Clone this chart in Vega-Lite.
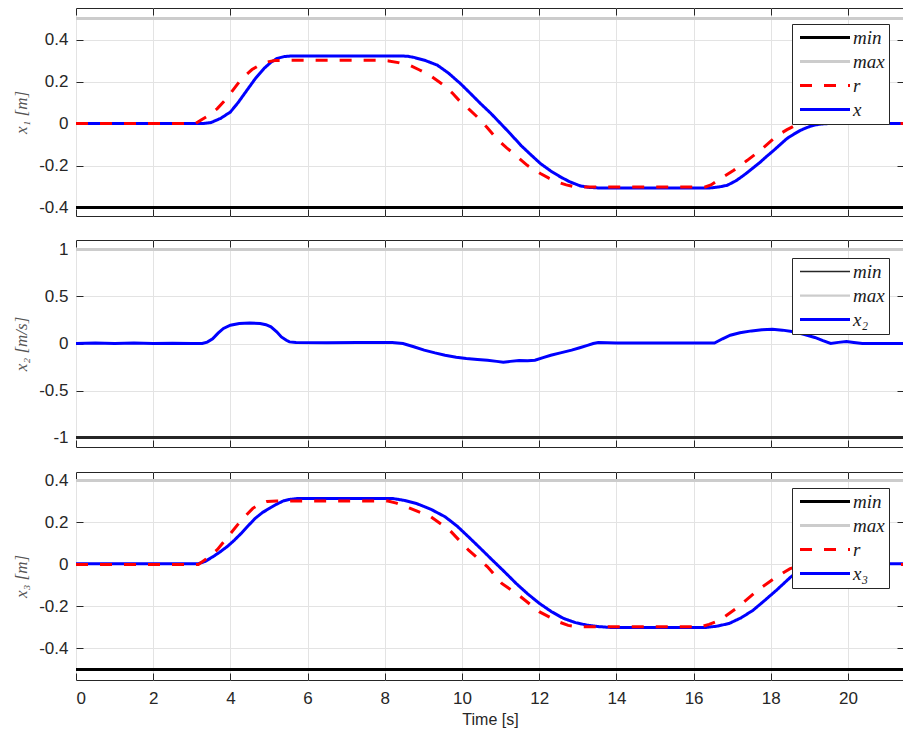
{
  "$schema": "https://vega.github.io/schema/vega-lite/v6.json",
  "padding": {"left": 12, "top": 7, "right": 0, "bottom": 0},
  "spacing": 22,
  "datasets": {
    "p1": [
      {"t": 0, "v": -0.4, "s": "min"}, {"t": 21.45, "v": -0.4, "s": "min"},
      {"t": 0, "v": 0.5, "s": "max"}, {"t": 21.45, "v": 0.5, "s": "max"},
      {"t": 0, "v": 0, "s": "x"}, {"t": 3.3, "v": 0, "s": "x"}, {"t": 3.5, "v": 0.005, "s": "x"}, {"t": 3.75, "v": 0.025, "s": "x"}, {"t": 4.0, "v": 0.055, "s": "x"}, {"t": 4.2, "v": 0.1, "s": "x"}, {"t": 4.43, "v": 0.159, "s": "x"}, {"t": 4.65, "v": 0.215, "s": "x"}, {"t": 4.87, "v": 0.262, "s": "x"}, {"t": 5.05, "v": 0.292, "s": "x"}, {"t": 5.21, "v": 0.31, "s": "x"}, {"t": 5.4, "v": 0.319, "s": "x"}, {"t": 5.6, "v": 0.322, "s": "x"}, {"t": 8.4, "v": 0.322, "s": "x"}, {"t": 8.6, "v": 0.32, "s": "x"}, {"t": 8.75, "v": 0.315, "s": "x"}, {"t": 9.05, "v": 0.3, "s": "x"}, {"t": 9.36, "v": 0.278, "s": "x"}, {"t": 9.65, "v": 0.24, "s": "x"}, {"t": 9.96, "v": 0.19, "s": "x"}, {"t": 10.22, "v": 0.143, "s": "x"}, {"t": 10.48, "v": 0.095, "s": "x"}, {"t": 10.75, "v": 0.048, "s": "x"}, {"t": 11.0, "v": 0.0, "s": "x"}, {"t": 11.26, "v": -0.05, "s": "x"}, {"t": 11.52, "v": -0.103, "s": "x"}, {"t": 11.78, "v": -0.148, "s": "x"}, {"t": 12.03, "v": -0.19, "s": "x"}, {"t": 12.3, "v": -0.226, "s": "x"}, {"t": 12.55, "v": -0.254, "s": "x"}, {"t": 12.8, "v": -0.278, "s": "x"}, {"t": 13.07, "v": -0.297, "s": "x"}, {"t": 13.3, "v": -0.304, "s": "x"}, {"t": 13.6, "v": -0.307, "s": "x"}, {"t": 16.4, "v": -0.307, "s": "x"}, {"t": 16.65, "v": -0.302, "s": "x"}, {"t": 16.87, "v": -0.294, "s": "x"}, {"t": 17.1, "v": -0.272, "s": "x"}, {"t": 17.3, "v": -0.246, "s": "x"}, {"t": 17.5, "v": -0.217, "s": "x"}, {"t": 17.73, "v": -0.183, "s": "x"}, {"t": 17.9, "v": -0.155, "s": "x"}, {"t": 18.08, "v": -0.127, "s": "x"}, {"t": 18.25, "v": -0.099, "s": "x"}, {"t": 18.42, "v": -0.071, "s": "x"}, {"t": 18.6, "v": -0.05, "s": "x"}, {"t": 18.77, "v": -0.032, "s": "x"}, {"t": 18.95, "v": -0.018, "s": "x"}, {"t": 19.11, "v": -0.008, "s": "x"}, {"t": 19.3, "v": -0.002, "s": "x"}, {"t": 19.5, "v": 0, "s": "x"}, {"t": 21.45, "v": 0, "s": "x"},
      {"t": 0, "v": 0, "s": "r"}, {"t": 3.1, "v": 0, "s": "r"}, {"t": 3.23, "v": 0.016, "s": "r"}, {"t": 3.45, "v": 0.04, "s": "r"}, {"t": 3.66, "v": 0.071, "s": "r"}, {"t": 3.83, "v": 0.105, "s": "r"}, {"t": 4.0, "v": 0.143, "s": "r"}, {"t": 4.13, "v": 0.175, "s": "r"}, {"t": 4.26, "v": 0.206, "s": "r"}, {"t": 4.41, "v": 0.233, "s": "r"}, {"t": 4.56, "v": 0.257, "s": "r"}, {"t": 4.75, "v": 0.278, "s": "r"}, {"t": 4.95, "v": 0.293, "s": "r"}, {"t": 5.15, "v": 0.3, "s": "r"}, {"t": 5.35, "v": 0.301, "s": "r"}, {"t": 7.9, "v": 0.301, "s": "r"}, {"t": 8.1, "v": 0.298, "s": "r"}, {"t": 8.35, "v": 0.29, "s": "r"}, {"t": 8.67, "v": 0.275, "s": "r"}, {"t": 8.9, "v": 0.255, "s": "r"}, {"t": 9.18, "v": 0.228, "s": "r"}, {"t": 9.53, "v": 0.182, "s": "r"}, {"t": 9.75, "v": 0.145, "s": "r"}, {"t": 9.96, "v": 0.103, "s": "r"}, {"t": 10.2, "v": 0.065, "s": "r"}, {"t": 10.39, "v": 0.032, "s": "r"}, {"t": 10.65, "v": -0.019, "s": "r"}, {"t": 10.91, "v": -0.075, "s": "r"}, {"t": 11.15, "v": -0.115, "s": "r"}, {"t": 11.34, "v": -0.143, "s": "r"}, {"t": 11.69, "v": -0.199, "s": "r"}, {"t": 12.03, "v": -0.238, "s": "r"}, {"t": 12.25, "v": -0.26, "s": "r"}, {"t": 12.47, "v": -0.278, "s": "r"}, {"t": 12.7, "v": -0.292, "s": "r"}, {"t": 12.9, "v": -0.3, "s": "r"}, {"t": 13.1, "v": -0.302, "s": "r"}, {"t": 16.3, "v": -0.302, "s": "r"}, {"t": 16.45, "v": -0.292, "s": "r"}, {"t": 16.61, "v": -0.272, "s": "r"}, {"t": 16.8, "v": -0.25, "s": "r"}, {"t": 17.04, "v": -0.222, "s": "r"}, {"t": 17.39, "v": -0.175, "s": "r"}, {"t": 17.73, "v": -0.127, "s": "r"}, {"t": 18.08, "v": -0.071, "s": "r"}, {"t": 18.25, "v": -0.048, "s": "r"}, {"t": 18.42, "v": -0.029, "s": "r"}, {"t": 18.6, "v": -0.012, "s": "r"}, {"t": 18.77, "v": -0.003, "s": "r"}, {"t": 19.0, "v": 0.002, "s": "r"}, {"t": 19.2, "v": 0, "s": "r"}, {"t": 21.45, "v": 0, "s": "r"}
    ],
    "p2": [
      {"t": 0, "v": -1, "s": "min"}, {"t": 21.45, "v": -1, "s": "min"},
      {"t": 0, "v": 1, "s": "max"}, {"t": 21.45, "v": 1, "s": "max"},
      {"t": 0, "v": 0, "s": "x₂"}, {"t": 0.5, "v": 0.005, "s": "x₂"}, {"t": 1, "v": 0, "s": "x₂"}, {"t": 1.5, "v": 0.004, "s": "x₂"}, {"t": 2, "v": 0, "s": "x₂"}, {"t": 2.5, "v": 0.003, "s": "x₂"}, {"t": 3, "v": 0, "s": "x₂"}, {"t": 3.27, "v": 0, "s": "x₂"}, {"t": 3.4, "v": 0.015, "s": "x₂"}, {"t": 3.54, "v": 0.05, "s": "x₂"}, {"t": 3.68, "v": 0.11, "s": "x₂"}, {"t": 3.82, "v": 0.16, "s": "x₂"}, {"t": 4.0, "v": 0.195, "s": "x₂"}, {"t": 4.23, "v": 0.213, "s": "x₂"}, {"t": 4.5, "v": 0.218, "s": "x₂"}, {"t": 4.77, "v": 0.213, "s": "x₂"}, {"t": 4.92, "v": 0.2, "s": "x₂"}, {"t": 5.05, "v": 0.177, "s": "x₂"}, {"t": 5.2, "v": 0.125, "s": "x₂"}, {"t": 5.32, "v": 0.07, "s": "x₂"}, {"t": 5.45, "v": 0.035, "s": "x₂"}, {"t": 5.53, "v": 0.017, "s": "x₂"}, {"t": 5.7, "v": 0.01, "s": "x₂"}, {"t": 6.5, "v": 0.008, "s": "x₂"}, {"t": 7.3, "v": 0.01, "s": "x₂"}, {"t": 8.19, "v": 0.01, "s": "x₂"}, {"t": 8.47, "v": 0, "s": "x₂"}, {"t": 8.75, "v": -0.035, "s": "x₂"}, {"t": 9.02, "v": -0.07, "s": "x₂"}, {"t": 9.3, "v": -0.1, "s": "x₂"}, {"t": 9.56, "v": -0.125, "s": "x₂"}, {"t": 9.85, "v": -0.145, "s": "x₂"}, {"t": 10.11, "v": -0.16, "s": "x₂"}, {"t": 10.4, "v": -0.17, "s": "x₂"}, {"t": 10.66, "v": -0.178, "s": "x₂"}, {"t": 10.9, "v": -0.19, "s": "x₂"}, {"t": 11.07, "v": -0.2, "s": "x₂"}, {"t": 11.25, "v": -0.19, "s": "x₂"}, {"t": 11.48, "v": -0.18, "s": "x₂"}, {"t": 11.7, "v": -0.182, "s": "x₂"}, {"t": 11.89, "v": -0.178, "s": "x₂"}, {"t": 12.1, "v": -0.15, "s": "x₂"}, {"t": 12.3, "v": -0.125, "s": "x₂"}, {"t": 12.55, "v": -0.1, "s": "x₂"}, {"t": 12.84, "v": -0.07, "s": "x₂"}, {"t": 13.05, "v": -0.045, "s": "x₂"}, {"t": 13.25, "v": -0.02, "s": "x₂"}, {"t": 13.4, "v": 0, "s": "x₂"}, {"t": 13.53, "v": 0.01, "s": "x₂"}, {"t": 14, "v": 0.005, "s": "x₂"}, {"t": 15, "v": 0.005, "s": "x₂"}, {"t": 16, "v": 0.005, "s": "x₂"}, {"t": 16.54, "v": 0.005, "s": "x₂"}, {"t": 16.75, "v": 0.05, "s": "x₂"}, {"t": 16.95, "v": 0.088, "s": "x₂"}, {"t": 17.2, "v": 0.115, "s": "x₂"}, {"t": 17.5, "v": 0.134, "s": "x₂"}, {"t": 17.77, "v": 0.146, "s": "x₂"}, {"t": 18.04, "v": 0.152, "s": "x₂"}, {"t": 18.3, "v": 0.142, "s": "x₂"}, {"t": 18.59, "v": 0.124, "s": "x₂"}, {"t": 18.85, "v": 0.097, "s": "x₂"}, {"t": 19.14, "v": 0.064, "s": "x₂"}, {"t": 19.35, "v": 0.03, "s": "x₂"}, {"t": 19.55, "v": 0, "s": "x₂"}, {"t": 19.75, "v": 0.012, "s": "x₂"}, {"t": 19.96, "v": 0.02, "s": "x₂"}, {"t": 20.15, "v": 0.01, "s": "x₂"}, {"t": 20.37, "v": 0, "s": "x₂"}, {"t": 21.45, "v": 0, "s": "x₂"}
    ],
    "p3": [
      {"t": 0, "v": -0.5, "s": "min"}, {"t": 21.45, "v": -0.5, "s": "min"},
      {"t": 0, "v": 0.4, "s": "max"}, {"t": 21.45, "v": 0.4, "s": "max"},
      {"t": 0, "v": 0.003, "s": "x₃"}, {"t": 3.17, "v": 0.003, "s": "x₃"}, {"t": 3.35, "v": 0.015, "s": "x₃"}, {"t": 3.54, "v": 0.036, "s": "x₃"}, {"t": 3.72, "v": 0.058, "s": "x₃"}, {"t": 3.91, "v": 0.084, "s": "x₃"}, {"t": 4.1, "v": 0.115, "s": "x₃"}, {"t": 4.28, "v": 0.148, "s": "x₃"}, {"t": 4.46, "v": 0.184, "s": "x₃"}, {"t": 4.64, "v": 0.219, "s": "x₃"}, {"t": 4.83, "v": 0.247, "s": "x₃"}, {"t": 5.01, "v": 0.267, "s": "x₃"}, {"t": 5.2, "v": 0.287, "s": "x₃"}, {"t": 5.38, "v": 0.303, "s": "x₃"}, {"t": 5.55, "v": 0.31, "s": "x₃"}, {"t": 5.75, "v": 0.314, "s": "x₃"}, {"t": 8.2, "v": 0.314, "s": "x₃"}, {"t": 8.5, "v": 0.305, "s": "x₃"}, {"t": 8.82, "v": 0.29, "s": "x₃"}, {"t": 9.2, "v": 0.262, "s": "x₃"}, {"t": 9.56, "v": 0.227, "s": "x₃"}, {"t": 9.87, "v": 0.183, "s": "x₃"}, {"t": 10.17, "v": 0.131, "s": "x₃"}, {"t": 10.48, "v": 0.076, "s": "x₃"}, {"t": 10.79, "v": 0.02, "s": "x₃"}, {"t": 11.1, "v": -0.035, "s": "x₃"}, {"t": 11.4, "v": -0.09, "s": "x₃"}, {"t": 11.7, "v": -0.14, "s": "x₃"}, {"t": 12.01, "v": -0.186, "s": "x₃"}, {"t": 12.32, "v": -0.225, "s": "x₃"}, {"t": 12.63, "v": -0.257, "s": "x₃"}, {"t": 12.94, "v": -0.277, "s": "x₃"}, {"t": 13.24, "v": -0.289, "s": "x₃"}, {"t": 13.55, "v": -0.296, "s": "x₃"}, {"t": 13.85, "v": -0.3, "s": "x₃"}, {"t": 16.31, "v": -0.3, "s": "x₃"}, {"t": 16.6, "v": -0.294, "s": "x₃"}, {"t": 16.92, "v": -0.281, "s": "x₃"}, {"t": 17.23, "v": -0.254, "s": "x₃"}, {"t": 17.54, "v": -0.218, "s": "x₃"}, {"t": 17.85, "v": -0.17, "s": "x₃"}, {"t": 18.15, "v": -0.122, "s": "x₃"}, {"t": 18.52, "v": -0.059, "s": "x₃"}, {"t": 18.8, "v": -0.025, "s": "x₃"}, {"t": 19.1, "v": -0.006, "s": "x₃"}, {"t": 19.4, "v": 0.002, "s": "x₃"}, {"t": 21.45, "v": 0.003, "s": "x₃"},
      {"t": 0, "v": 0, "s": "r"}, {"t": 3.17, "v": 0, "s": "r"}, {"t": 3.4, "v": 0.03, "s": "r"}, {"t": 3.66, "v": 0.07, "s": "r"}, {"t": 3.97, "v": 0.14, "s": "r"}, {"t": 4.28, "v": 0.21, "s": "r"}, {"t": 4.58, "v": 0.267, "s": "r"}, {"t": 4.78, "v": 0.29, "s": "r"}, {"t": 4.95, "v": 0.3, "s": "r"}, {"t": 5.2, "v": 0.302, "s": "r"}, {"t": 8.08, "v": 0.302, "s": "r"}, {"t": 8.3, "v": 0.292, "s": "r"}, {"t": 8.57, "v": 0.274, "s": "r"}, {"t": 9.19, "v": 0.227, "s": "r"}, {"t": 9.68, "v": 0.163, "s": "r"}, {"t": 10.17, "v": 0.068, "s": "r"}, {"t": 10.66, "v": -0.011, "s": "r"}, {"t": 11.03, "v": -0.09, "s": "r"}, {"t": 11.52, "v": -0.154, "s": "r"}, {"t": 12.01, "v": -0.226, "s": "r"}, {"t": 12.5, "v": -0.273, "s": "r"}, {"t": 12.75, "v": -0.29, "s": "r"}, {"t": 12.99, "v": -0.297, "s": "r"}, {"t": 16.19, "v": -0.297, "s": "r"}, {"t": 16.4, "v": -0.285, "s": "r"}, {"t": 16.68, "v": -0.265, "s": "r"}, {"t": 17.17, "v": -0.2, "s": "r"}, {"t": 17.66, "v": -0.122, "s": "r"}, {"t": 18.15, "v": -0.059, "s": "r"}, {"t": 18.5, "v": -0.02, "s": "r"}, {"t": 18.9, "v": 0, "s": "r"}, {"t": 21.45, "v": 0, "s": "r"}
    ]
  },
  "resolve": {
    "scale": {"y": "independent", "color": "independent", "strokeDash": "independent", "strokeWidth": "independent"},
    "legend": {"color": "independent", "strokeDash": "independent", "strokeWidth": "independent"}
  },
  "vconcat": [
    {
      "width": 828, "height": 208,
      "data": {"name": "p1"},
      "resolve": {"axis": {"x": "independent", "y": "independent"}},
      "layer": [
        {
          "mark": {"type": "line", "clip": true},
          "encoding": {
            "x": {"field": "t", "type": "quantitative", "scale": {"domain": [0, 21.45], "nice": false},
                  "axis": {"values": [0,2,4,6,8,10,12,14,16,18,20], "labels": false, "title": null}},
            "y": {"field": "v", "type": "quantitative", "scale": {"domain": [-0.44, 0.55], "nice": false, "zero": false},
                  "axis": {"values": [-0.4,-0.2,0,0.2,0.4], "title": "x₁ [m]"}},
            "detail": {"field": "s"},
            "color": {"field": "s", "type": "nominal", "title": null,
                      "scale": {"domain": ["min","max","r","x"], "range": ["#000000","#cccccc","#ff0000","#0000ff"]},
                      "legend": {"legendX": 716, "legendY": 16}},
            "strokeDash": {"field": "s", "type": "nominal", "title": null,
                      "scale": {"domain": ["min","max","r","x"], "range": [[1,0],[1,0],[12,12],[1,0]]},
                      "legend": {"legendX": 716, "legendY": 16}}
          }
        },
        {
          "mark": {"type": "point", "opacity": 0, "clip": true},
          "encoding": {
            "x": {"field": "t", "type": "quantitative",
                  "axis": {"orient": "top", "values": [0,2,4,6,8,10,12,14,16,18,20], "labels": false, "title": null, "grid": false}},
            "y": {"field": "v", "type": "quantitative",
                  "axis": {"orient": "right", "values": [-0.4,-0.2,0,0.2,0.4], "labels": false, "title": null, "grid": false}}
          }
        }
      ]
    },
    {
      "width": 828, "height": 207,
      "data": {"name": "p2"},
      "resolve": {"axis": {"x": "independent", "y": "independent"}},
      "layer": [
        {
          "mark": {"type": "line", "clip": true},
          "encoding": {
            "x": {"field": "t", "type": "quantitative", "scale": {"domain": [0, 21.45], "nice": false},
                  "axis": {"values": [0,2,4,6,8,10,12,14,16,18,20], "labels": false, "title": null}},
            "y": {"field": "v", "type": "quantitative", "scale": {"domain": [-1.1, 1.1], "nice": false, "zero": false},
                  "axis": {"values": [-1,-0.5,0,0.5,1], "title": "x₂ [m/s]"}},
            "detail": {"field": "s"},
            "color": {"field": "s", "type": "nominal", "title": null,
                      "scale": {"domain": ["min","max","x₂"], "range": ["#262626","#cccccc","#0000ff"]},
                      "legend": {"legendX": 716, "legendY": 18}},
            "strokeWidth": {"field": "s", "type": "nominal", "title": null,
                      "scale": {"domain": ["min","max","x₂"], "range": [1.5, 3, 3]},
                      "legend": {"legendX": 716, "legendY": 18}}
          }
        },
        {
          "mark": {"type": "point", "opacity": 0, "clip": true},
          "encoding": {
            "x": {"field": "t", "type": "quantitative",
                  "axis": {"orient": "top", "values": [0,2,4,6,8,10,12,14,16,18,20], "labels": false, "title": null, "grid": false}},
            "y": {"field": "v", "type": "quantitative",
                  "axis": {"orient": "right", "values": [-1,-0.5,0,0.5,1], "labels": false, "title": null, "grid": false}}
          }
        }
      ]
    },
    {
      "width": 828, "height": 208,
      "data": {"name": "p3"},
      "resolve": {"axis": {"x": "independent", "y": "independent"}},
      "layer": [
        {
          "mark": {"type": "line", "clip": true},
          "encoding": {
            "x": {"field": "t", "type": "quantitative", "scale": {"domain": [0, 21.45], "nice": false},
                  "axis": {"values": [0,2,4,6,8,10,12,14,16,18,20], "title": "Time [s]"}},
            "y": {"field": "v", "type": "quantitative", "scale": {"domain": [-0.55, 0.44], "nice": false, "zero": false},
                  "axis": {"values": [-0.4,-0.2,0,0.2,0.4], "title": "x₃ [m]"}},
            "detail": {"field": "s"},
            "color": {"field": "s", "type": "nominal", "title": null,
                      "scale": {"domain": ["min","max","r","x₃"], "range": ["#000000","#cccccc","#ff0000","#0000ff"]},
                      "legend": {"legendX": 716, "legendY": 16}},
            "strokeDash": {"field": "s", "type": "nominal", "title": null,
                      "scale": {"domain": ["min","max","r","x₃"], "range": [[1,0],[1,0],[12,12],[1,0]]},
                      "legend": {"legendX": 716, "legendY": 16}}
          }
        },
        {
          "mark": {"type": "point", "opacity": 0, "clip": true},
          "encoding": {
            "x": {"field": "t", "type": "quantitative",
                  "axis": {"orient": "top", "values": [0,2,4,6,8,10,12,14,16,18,20], "labels": false, "title": null, "grid": false}},
            "y": {"field": "v", "type": "quantitative",
                  "axis": {"orient": "right", "values": [-0.4,-0.2,0,0.2,0.4], "labels": false, "title": null, "grid": false}}
          }
        }
      ]
    }
  ],
  "config": {
    "view": {"stroke": "#262626", "strokeWidth": 1},
    "line": {"strokeWidth": 3},
    "axis": {
      "domain": false, "grid": true, "gridColor": "#e3e3e3", "gridWidth": 1,
      "tickColor": "#262626", "tickSize": -7, "labelPadding": 15,
      "format": "~g", "labelExpr": "replace(datum.label, '−', '-')",
      "labelFont": "Liberation Sans", "labelFontSize": 17, "labelColor": "#262626",
      "titleFont": "Liberation Serif", "titleFontStyle": "italic", "titleFontWeight": "normal",
      "titleFontSize": 17, "titleColor": "#555555"
    },
    "axisX": {"labelPadding": 17, "titleFont": "Liberation Sans", "titleFontStyle": "normal", "titleFontSize": 16, "titleColor": "#262626", "titlePadding": 5},
    "axisY": {"titlePadding": 8},
    "legend": {
      "orient": "none", "fillColor": "#ffffff", "strokeColor": "#262626", "padding": 4,
      "labelFont": "Liberation Serif", "labelFontStyle": "italic", "labelFontSize": 19, "labelColor": "#1a1a1a",
      "symbolType": "M-1.1,0H8.9", "symbolSize": 100, "symbolStrokeWidth": 3, "rowPadding": 4, "labelOffset": 38
    }
  }
}
